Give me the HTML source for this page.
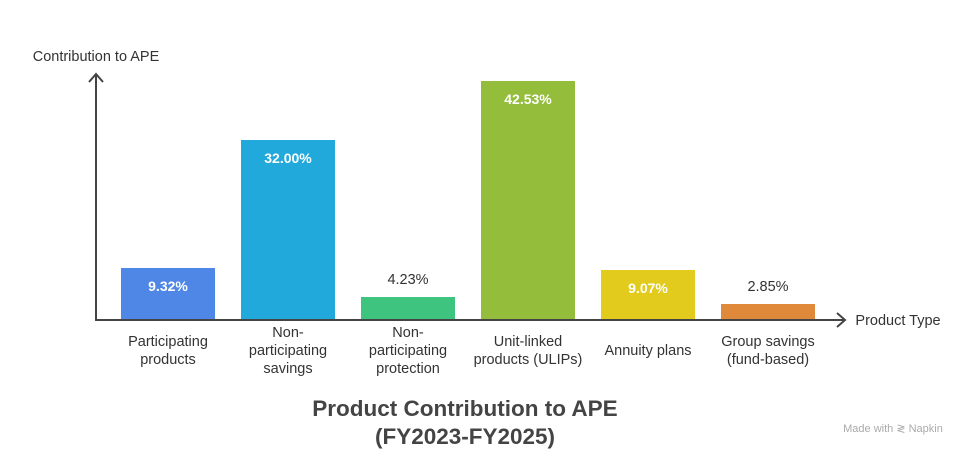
<!DOCTYPE html>
<html><head><style>
body{margin:0;background:#fff;}
svg text{font-family:"Liberation Sans",sans-serif;}
</style></head><body>
<svg width="972" height="456" viewBox="0 0 972 456" xmlns="http://www.w3.org/2000/svg">
<rect width="972" height="456" fill="#fff"/>
<rect x="121" y="268" width="94" height="52" fill="#4f87e6"/>
<rect x="241" y="140" width="94" height="180" fill="#20a9da"/>
<rect x="361" y="297" width="94" height="23" fill="#3ec47f"/>
<rect x="481" y="81" width="94" height="239" fill="#93bd3a"/>
<rect x="601" y="270" width="94" height="50" fill="#e2cb1c"/>
<rect x="721" y="304" width="94" height="16" fill="#e0893a"/>
<g stroke="#444" stroke-width="2" fill="none">
<path d="M96 320V74M89 82L96 74L103 82"/>
<path d="M95 320H845M837 313L845 320L837 327"/>
</g>
<g font-size="14" fill="#fff" text-anchor="middle" font-weight="bold">
<text x="168" y="291">9.32%</text>
<text x="288" y="163">32.00%</text>
<text x="528" y="104">42.53%</text>
<text x="648" y="293">9.07%</text>
</g>
<g font-size="14.5" fill="#333" text-anchor="middle">
<text x="408" y="284">4.23%</text>
<text x="768" y="291">2.85%</text>
<text x="168" y="346">Participating</text><text x="168" y="364">products</text>
<text x="288" y="337">Non-</text><text x="288" y="355">participating</text><text x="288" y="373">savings</text>
<text x="408" y="337">Non-</text><text x="408" y="355">participating</text><text x="408" y="373">protection</text>
<text x="528" y="346">Unit-linked</text><text x="528" y="364">products (ULIPs)</text>
<text x="648" y="355">Annuity plans</text>
<text x="768" y="346">Group savings</text><text x="768" y="364">(fund-based)</text>
<text x="96" y="61">Contribution to APE</text>
<text x="898" y="325">Product Type</text>
</g>
<g font-size="22.5" font-weight="bold" fill="#444" text-anchor="middle">
<text x="465" y="416">Product Contribution to APE</text>
<text x="465" y="444">(FY2023-FY2025)</text>
</g>
<text x="893" y="432" font-size="11" fill="#aaa" text-anchor="middle">Made with ≷ Napkin</text>
</svg>
</body></html>
